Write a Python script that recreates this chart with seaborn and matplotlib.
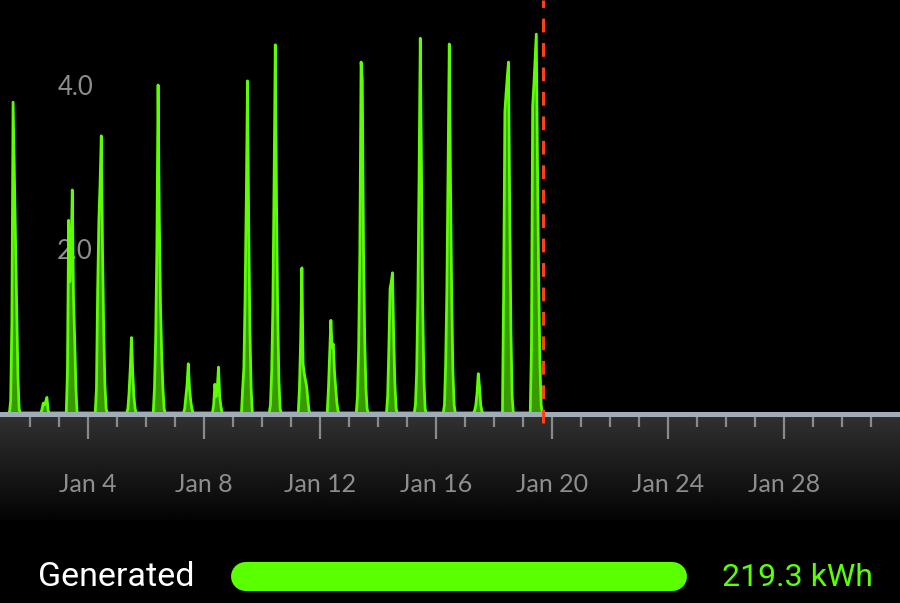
import numpy as np
import pandas as pd
import matplotlib
matplotlib.use("Agg")
import matplotlib.pyplot as plt
import matplotlib.transforms as mtransforms
from matplotlib.patches import Rectangle
from matplotlib.lines import Line2D
import seaborn as sns

# ---------------- data ----------------
hours = [6, 7, 8, 9, 10, 11, 12, 13, 14, 15, 16]
day_numbers = list(range(1, 20))          # Jan 1 .. Jan 19
kw = [
    [0, 0, 0.15, 1.1, 3.79, 2.95, 2.1, 1.26, 0.45, 0.05, 0],      # Jan 1
    [0, 0, 0, 0, 0.05, 0.12, 0.10, 0.14, 0.19, 0.03, 0],          # Jan 2
    [0, 0.5, 2.35, 1.6, 1.9, 2.72, 1.4, 0.89, 0.3, 0, 0],         # Jan 3
    [0, 0.3, 1.5, 2.35, 2.8, 3.38, 2.0, 1.0, 0.35, 0.05, 0],      # Jan 4
    [0, 0, 0, 0.05, 0.25, 0.55, 0.92, 0.5, 0.2, 0.05, 0],         # Jan 5
    [0, 0.3, 0.9, 2.0, 4.0, 2.4, 1.3, 0.7, 0.3, 0.05, 0],         # Jan 6
    [0, 0, 0.05, 0.2, 0.35, 0.60, 0.3, 0.15, 0.05, 0, 0],         # Jan 7
    [0, 0, 0.1, 0.35, 0.2, 0.3, 0.56, 0.2, 0.08, 0, 0],           # Jan 8
    [0, 0, 0.3, 0.55, 1.4, 2.6, 4.05, 2.3, 1.0, 0.3, 0],          # Jan 9
    [0, 0.1, 0.5, 1.3, 2.8, 4.49, 2.6, 1.2, 0.4, 0.05, 0],        # Jan 10
    [0, 0.3, 0.9, 1.77, 0.6, 0.48, 0.4, 0.32, 0.15, 0.02, 0],     # Jan 11
    [0, 0.3, 0.7, 1.13, 0.8, 0.84, 0.5, 0.3, 0.12, 0.02, 0],      # Jan 12
    [0, 0.2, 0.8, 2.0, 4.28, 4.06, 2.0, 0.9, 0.3, 0.05, 0],       # Jan 13
    [0, 0, 0.2, 0.8, 1.52, 1.6, 1.71, 0.9, 0.35, 0.05, 0],        # Jan 14
    [0, 0.1, 0.5, 1.4, 2.9, 4.57, 2.9, 1.3, 0.4, 0.05, 0],        # Jan 15
    [0, 0.1, 0.6, 1.5, 3.0, 4.50, 2.8, 1.4, 0.5, 0.1, 0],         # Jan 16
    [0, 0, 0.03, 0.1, 0.25, 0.48, 0.32, 0.1, 0.02, 0, 0],         # Jan 17
    [0, 0, 1.5, 3.67, 3.9, 4.1, 4.28, 2.5, 1.0, 0.2, 0],          # Jan 18
    [0, 0.8, 3.74, 4.0, 4.3, 4.62, 3.0, 1.6, 0.6, 0.1, 0],        # Jan 19
]
now_marker_day = 18.68                     # days after Jan 1 00:00
x_tick_days = [3, 7, 11, 15, 19, 23, 27]   # Jan 4 ... Jan 28
x_tick_labels = ["Jan 4", "Jan 8", "Jan 12", "Jan 16", "Jan 20", "Jan 24", "Jan 28"]
minor_tick_days = list(range(1, 31))
y_tick_values = [2.0, 4.0]
y_tick_labels = ["2.0", "4.0"]
summary_label = "Generated"
summary_value = "219.3 kWh"

# build long table
rows = []
for d, vals in zip(day_numbers, kw):
    for h, v in zip(hours, vals):
        rows.append({"t": (d - 1) + h / 24.0, "kw": v})
df = pd.DataFrame(rows)

# ---------------- figure ----------------
sns.set_style("dark")
plt.rcParams["font.family"] = ["Lato", "DejaVu Sans"]

W, H = 900, 603
fig = plt.figure(figsize=(9, 6.03), dpi=100, facecolor="black")

def fy(px):
    return 1 - px / H

LINE = "#5cff00"
FILL = "#3a9800"
GREY_TXT = "#8e8e8e"

# main plot area: px 0..413
ax = fig.add_axes([0, fy(413), 1, 413 / H])
ax.set_facecolor("black")
ax.set_zorder(2)
ax.set_xlim(-1 / 29, 899 / 29)
ax.set_ylim(0, 413 / 82)

ax.fill_between(df["t"], df["kw"], 0, color=FILL, linewidth=0, zorder=2)
sns.lineplot(data=df, x="t", y="kw", ax=ax, color=LINE, linewidth=2.0,
             estimator=None, sort=False, zorder=3)

ax.set_xticks([])
ax.set_yticks([])
ax.set_xlabel("")
ax.set_ylabel("")
ax.grid(False)
for s in ax.spines.values():
    s.set_visible(False)

trans_y = mtransforms.blended_transform_factory(ax.transAxes, ax.transData) + \
    mtransforms.ScaledTranslation(0, -2.5 / 100, fig.dpi_scale_trans)
for v, lab in zip(y_tick_values, y_tick_labels):
    ax.text(93 / W, v, lab, transform=trans_y, ha="right", va="center",
            fontsize=18.5, color=GREY_TXT, zorder=1)

# axis strip (px 412..417)
ax.add_patch(Rectangle((0, -4 / 413), 1, 5 / 413, transform=ax.transAxes,
                       facecolor="#9fadb5", edgecolor="none", clip_on=False, zorder=5))

# "now" dashed marker
ax.axvline(now_marker_day, ymin=-10 / 413, ymax=1, color="#ff4214", linewidth=2.2,
           linestyle=(0, (4.5, 3.5)), clip_on=False, zorder=6)

# bottom date panel: px 417..520
axb = fig.add_axes([0, fy(520), 1, 103 / H])
axb.set_zorder(1)
axb.set_xlim(-1 / 29, 899 / 29)
axb.set_ylim(0, 1)
grad = np.linspace(0.19, 0.015, 200).reshape(-1, 1)
axb.imshow(grad, cmap="gray", vmin=0, vmax=1, aspect="auto",
           extent=(-1 / 29, 899 / 29, 0, 1), zorder=0)
for s in axb.spines.values():
    s.set_visible(False)
axb.set_yticks([])
axb.set_xticks(x_tick_days)
axb.set_xticks([d for d in minor_tick_days if d not in x_tick_days], minor=True)
axb.set_xticklabels([])
axb.tick_params(axis="x", which="both", top=True, bottom=False, direction="in",
                labeltop=False, labelbottom=False, color="#8a8a8a", width=1.6)
axb.tick_params(axis="x", which="major", length=15.5)
axb.tick_params(axis="x", which="minor", length=7.5)
axb.grid(False)
for d, lab in zip(x_tick_days, x_tick_labels):
    axb.text(d, (520 - 484) / 103, lab, ha="center", va="center",
             fontsize=18, color=GREY_TXT)

# summary row
fig.text(38 / W, fy(577), summary_label, color="white", fontsize=24.5,
         family=["Roboto", "DejaVu Sans"], ha="left", va="center")
fig.text(873 / W, fy(577), summary_value, color=LINE, fontsize=23,
         family=["Roboto", "DejaVu Sans"], ha="right", va="center")
fig.add_artist(Line2D([244.5 / W, 671.5 / W], [fy(576), fy(576)],
                      transform=fig.transFigure, color="#5aff00",
                      linewidth=29 * 72 / 100, solid_capstyle="round"))

fig.savefig("out.png", dpi=100, facecolor="black")
